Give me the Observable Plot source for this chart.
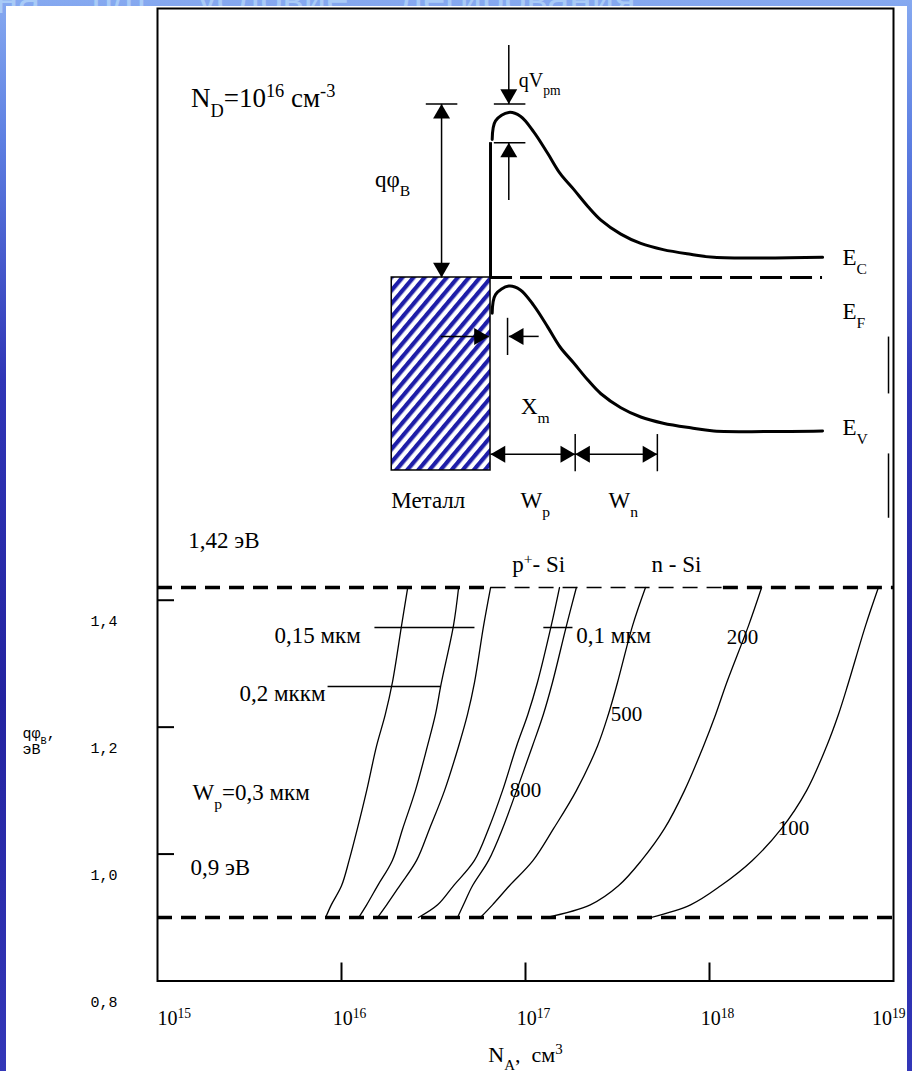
<!DOCTYPE html>
<html lang="ru">
<head>
<meta charset="utf-8">
<title>Высота барьера qφB в зависимости от N_A</title>
<script src="https://cdn.jsdelivr.net/npm/d3@7"></script>
<script src="https://cdn.jsdelivr.net/npm/@observablehq/plot@0.6"></script>
<style>
  html, body { margin: 0; padding: 0; }
  body {
    position: relative; width: 912px; height: 1071px; overflow: hidden;
    background: linear-gradient(180deg, #86a9f0 0px, #5d7fe2 140px, #2f35b6 380px, #2323a0 700px, #3337b8 1071px);
  }
  #slide-title {
    position: absolute; left: -4px; top: -21px; white-space: nowrap;
    font: 40px/40px "Liberation Sans", sans-serif; color: #a9cbf7; word-spacing: 40px;
  }
  #sheet { position: absolute; left: 6px; top: 6px; width: 901px; height: 1065px; background: #fff; }
  .layer { position: absolute; left: 0; top: 0; width: 912px; }
  .layer svg { display: block; max-width: none; font-family: "Liberation Serif", "Times New Roman", serif !important; }
</style>
</head>
<body>
<div id="slide-title">на п/п условие легирования</div>
<div id="sheet"></div>
<div id="chart" class="layer"></div>
<div id="diagram" class="layer"></div>
<script>
// ---------- Lower chart: barrier height qφB versus acceptor concentration N_A ----------

// barrier height levels (эВ) at which every curve is sampled
const qLevels = [0.90, 0.92, 0.95, 0.99, 1.04, 1.10, 1.17, 1.22, 1.27, 1.36, 1.42];

// N_A (см^-3) of the p+ layer that gives each qφB level, one array per layer thickness W_p
const naW300 = [8.2e15, 8.8e15, 1.0e16, 1.10e16, 1.22e16, 1.37e16, 1.55e16, 1.73e16, 1.89e16, 2.12e16, 2.29e16];
const naW200 = [1.24e16, 1.37e16, 1.57e16, 1.89e16, 2.15e16, 2.52e16, 2.93e16, 3.24e16, 3.49e16, 4.06e16, 4.33e16];
const naW150 = [1.57e16, 1.76e16, 2.07e16, 2.56e16, 3.01e16, 3.63e16, 4.33e16, 4.84e16, 5.28e16, 5.92e16, 6.46e16];
const naW100 = [2.62e16, 3.33e16, 4.06e16, 5.28e16, 6.30e16, 7.50e16, 8.94e16, 1.03e17, 1.16e17, 1.38e17, 1.53e17];
const naW80  = [4.27e16, 4.60e16, 5.15e16, 6.30e16, 7.50e16, 8.94e16, 1.09e17, 1.25e17, 1.40e17, 1.67e17, 1.89e17];
const naW50  = [5.69e16, 6.62e16, 8.18e16, 1.10e17, 1.42e17, 1.89e17, 2.46e17, 2.82e17, 3.16e17, 3.82e17, 4.49e17];
const naW20  = [1.29e17, 2.25e17, 3.20e17, 4.27e17, 5.69e17, 7.31e17, 9.27e17, 1.08e18, 1.24e18, 1.63e18, 1.92e18];
const naW10  = [4.78e17, 7.89e17, 1.15e18, 1.71e18, 2.46e18, 3.37e18, 4.33e18, 5.02e18, 5.69e18, 7.05e18, 8.28e18];
const layerNames = ["0,3 мкм", "0,2 мкм", "0,15 мкм", "0,1 мкм", "800 Å", "500 Å", "200 Å", "100 Å"];
const layerNA = [naW300, naW200, naW150, naW100, naW80, naW50, naW20, naW10];

// band edges drawn as dashed levels, and the stretch of the upper one drawn lighter
const upperLevel = 1.42;
const lowerLevel = 0.9;
const lightStretch = [6.5e16, 1.19e18];

// axes
const naTicks = [1e15, 1e16, 1e17, 1e18, 1e19];
const qTicks = [1.4, 1.2, 1.0, 0.8];

// notes inside the chart (N_A, qφB of their anchor)
const noteTexts = ["1,42 эВ", "0,9 эВ", "W_{p}=0,3 мкм", "0,15 мкм", "0,2 мккм", "0,1 мкм"];
const noteNA = [1.47e15, 1.51e15, 1.55e15, 4.32e15, 2.79e15, 1.89e17];
const noteQ = [1.494, 0.979, 1.097, 1.344, 1.253, 1.344];
const regionTexts = ["p^{+}- Si", "n - Si"];
const regionNA = [1.18e17, 6.62e17];
const regionQ = [1.456, 1.456];
const curveTags = ["800", "500", "200", "100"];
const curveTagNA = [1.0e17, 3.54e17, 1.51e18, 2.86e18];
const curveTagQ = [1.10, 1.221, 1.341, 1.040];
// leader lines from the thickness notes to their curves
const leaderFrom = [1.51e16, 8.4e15, 1.25e17];
const leaderTo = [5.28e16, 3.45e16, 1.80e17];
const leaderQ = [1.357, 1.264, 1.357];

// ---------- Upper sketch: band diagram of the metal / p+ / n-Si contact ----------
// distance from the metal (нм) and E_C − E_F (эВ)
const bandX  = [2, 6, 22, 36, 52, 69, 84, 100, 117, 133, 157, 181, 208, 241, 269, 400];
const bandEc = [0.89, 1.01, 1.065, 1.04, 0.94, 0.80, 0.67, 0.57, 0.46, 0.37, 0.28, 0.22, 0.18, 0.15, 0.13, 0.13];
const bandGap = 1.12;
const barrier = 1.12;      // qφB above the metal Fermi level
const ecAtMetal = 0.87;    // E_C right at the metal boundary
const peakX = 22;          // X_m, position of the barrier maximum
const wpEnd = 102;         // end of the p+ layer
const wnEnd = 201;         // end of the depleted n region
const metalLeft = -119;
const metalBottom = -1.245;
const phiArrowX = -59;
const xmLevel = -0.38;
const wLevel = -1.14;
const strayX = 479.5;
const strayFrom = [-0.381, -1.135];
const strayTo = [-0.748, -1.55];

const sketchTexts = ["qφ_{B}", "X_{m}", "Металл", "W_{p}", "W_{n}"];
const sketchTextX = [-118, 54, -75, 54, 160];
const sketchTextE = [0.63, -0.83, -1.44, -1.44, -1.44];
const levelNames = ["E_{C}", "E_{F}", "E_{V}"];
const levelNameE = [0.13, -0.22, -0.97];
const levelNameX = 424;

// ---------- rows for the marks ----------
const curveRows = layerNames.flatMap((name, k) =>
  qLevels.map((q, i) => ({layer: name, na: layerNA[k][i], q})));
const zip = (t, x, y) => t.map((text, i) => ({text, x: x[i], y: y[i]}));
const leaders = leaderFrom.map((x1, i) => ({x1, x2: leaderTo[i], y: leaderQ[i]}));

const ecRows = bandX.map((x, i) => ({x, e: bandEc[i]}));
const evRows = bandX.map((x, i) => ({x, e: bandEc[i] - bandGap}));

const shafts = [
  {x1: phiArrowX, y1: 0, x2: phiArrowX, y2: barrier},
  {x1: peakX, y1: barrier + 0.38, x2: peakX, y2: barrier},
  {x1: peakX, y1: ecAtMetal - 0.37, x2: peakX, y2: ecAtMetal},
  {x1: -60, y1: xmLevel, x2: -2, y2: xmLevel},
  {x1: peakX, y1: xmLevel, x2: 58, y2: xmLevel},
  {x1: 0, y1: wLevel, x2: wnEnd, y2: wLevel},
  {x1: -78, y1: barrier, x2: -40, y2: barrier},
  {x1: 4, y1: barrier, x2: 42, y2: barrier},
  {x1: 4, y1: ecAtMetal, x2: 42, y2: ecAtMetal},
  {x1: peakX - 1.5, y1: xmLevel + 0.12, x2: peakX - 1.5, y2: xmLevel - 0.12},
  {x1: wpEnd, y1: wLevel + 0.13, x2: wpEnd, y2: wLevel - 0.11},
  {x1: wnEnd, y1: wLevel + 0.13, x2: wnEnd, y2: wLevel - 0.11},
  ...strayFrom.map((e, i) => ({x1: strayX, y1: e, x2: strayX, y2: strayTo[i]}))
];
const heads = [
  {x: phiArrowX, e: 0, dir: "down"}, {x: phiArrowX, e: barrier, dir: "up"},
  {x: peakX, e: barrier, dir: "down"}, {x: peakX, e: ecAtMetal, dir: "up"},
  {x: -2, e: xmLevel, dir: "right"}, {x: peakX, e: xmLevel, dir: "left"},
  {x: 0, e: wLevel, dir: "left"}, {x: wpEnd, e: wLevel, dir: "right"},
  {x: wpEnd, e: wLevel, dir: "left"}, {x: wnEnd, e: wLevel, dir: "right"}
];
const headTurn = {up: 0, right: 90, down: 180, left: 270};
const headShift = 9.8;
const headMarks = Object.keys(headTurn).map(dir => Plot.dot(heads.filter(h => h.dir === dir), {
  x: "x", y: "e", symbol: "triangle", r: 6.3, fill: "#000", stroke: "none",
  rotate: headTurn[dir],
  dx: dir === "right" ? -headShift : dir === "left" ? headShift : 0,
  dy: dir === "up" ? headShift : dir === "down" ? -headShift : 0
}));

const serif = "Liberation Serif, Times New Roman, serif";
const mono = "Liberation Mono, Courier New, monospace";
const comma = d => d.toFixed(1).replace(".", ",");
const power = d => `10^{${Math.round(Math.log10(d))}}`;

const chart = Plot.plot({
  width: 912, height: 1071,
  marginTop: 8, marginRight: 19, marginBottom: 90.5, marginLeft: 157,
  style: {background: "transparent", color: "#000", overflow: "visible"},
  x: {type: "log", domain: [naTicks[0], naTicks[naTicks.length - 1]]},
  y: {domain: [0.8, 2.3324]},
  marks: [
    Plot.frame({stroke: "#000", strokeWidth: 2}),
    Plot.axisY(qTicks.filter(q => q > 0.8), {tickSize: -17, tickFormat: () => "", strokeWidth: 2, label: null}),
    Plot.axisY(qTicks, {tickSize: 0, tickPadding: 40, dy: 21, tickFormat: comma, fontFamily: mono, fontSize: 15, label: null}),
    Plot.axisX(naTicks.slice(1, -1), {tickSize: -18, tickFormat: () => "", strokeWidth: 2, label: null}),
    Plot.axisX(naTicks.slice(0, 1), {tickSize: 0, tickPadding: 30, textAnchor: "start", fontFamily: serif, fontSize: 20, label: null, tickFormat: power}),
    Plot.axisX(naTicks.slice(1, -1), {tickSize: 0, tickPadding: 30, dx: 8, fontFamily: serif, fontSize: 20, label: null, tickFormat: power}),
    Plot.axisX(naTicks.slice(-1), {tickSize: 0, tickPadding: 30, dx: 12, textAnchor: "end", fontFamily: serif, fontSize: 20, label: null, tickFormat: power}),
    Plot.ruleY([lowerLevel], {x1: naTicks[0], x2: naTicks[4], strokeWidth: 3.5, strokeDasharray: "15,9"}),
    Plot.ruleY([upperLevel], {x1: naTicks[0], x2: lightStretch[0], strokeWidth: 3.5, strokeDasharray: "15,9"}),
    Plot.ruleY([upperLevel], {x1: lightStretch[0], x2: lightStretch[1], strokeWidth: 1.6, strokeDasharray: "15,9"}),
    Plot.ruleY([upperLevel], {x1: lightStretch[1], x2: naTicks[4], strokeWidth: 3.5, strokeDasharray: "15,9"}),
    Plot.line(curveRows, {x: "na", y: "q", z: "layer", stroke: "#000", strokeWidth: 1.3, curve: "catmull-rom"}),
    Plot.link(leaders, {x1: "x1", x2: "x2", y1: "y", y2: "y", stroke: "#000", strokeWidth: 1.5}),
    Plot.text(zip(noteTexts, noteNA, noteQ), {x: "x", y: "y", text: "text", textAnchor: "start", fontFamily: serif, fontSize: 23}),
    Plot.text(zip(regionTexts, regionNA, regionQ), {x: "x", y: "y", text: "text", fontFamily: serif, fontSize: 23}),
    Plot.text(zip(curveTags, curveTagNA, curveTagQ), {x: "x", y: "y", text: "text", fontFamily: serif, fontSize: 21}),
    Plot.text(["qφ_{B},\nэВ"], {frameAnchor: "left", y: () => 1.179, dx: -135, textAnchor: "start",
      fontFamily: mono, fontSize: 15, lineHeight: 1.1}),
    Plot.text(["N_{A},  см^{3}"], {frameAnchor: "bottom", dy: 81, fontFamily: serif, fontSize: 22})
  ]
});

const diagram = Plot.plot({
  width: 912, height: 520, margin: 0,
  style: {background: "transparent", color: "#000", overflow: "visible"},
  x: {domain: [-590.4, 508.4], axis: null},
  y: {domain: [-1.5677, 1.7871], axis: null},
  marks: [
    Plot.rect([{x1: metalLeft, x2: 0, y1: metalBottom, y2: 0}],
      {x1: "x1", x2: "x2", y1: "y1", y2: "y2", fill: "url(#metal-hatch)", stroke: "#000", strokeWidth: 1.5}),
    Plot.ruleY([0], {x1: 0, x2: bandX[bandX.length - 1], strokeWidth: 3, strokeDasharray: "22,8"}),
    Plot.ruleX([0], {y1: 0, y2: ecAtMetal, strokeWidth: 3}),
    Plot.line(ecRows, {x: "x", y: "e", strokeWidth: 3, curve: "catmull-rom"}),
    Plot.line(evRows, {x: "x", y: "e", strokeWidth: 3, curve: "catmull-rom"}),
    Plot.link(shafts, {x1: "x1", y1: "y1", x2: "x2", y2: "y2", stroke: "#000", strokeWidth: 1.5}),
    ...headMarks,
    Plot.text(["N_{D}=10^{16} см^{-3}"], {x: () => -361, y: () => 1.155, textAnchor: "start", fontFamily: serif, fontSize: 27}),
    Plot.text(["qV_{pm}"], {x: () => 34, y: () => 1.27, textAnchor: "start", fontFamily: serif, fontSize: 20}),
    Plot.text(zip(sketchTexts, sketchTextX, sketchTextE), {x: "x", y: "y", text: "text", fontFamily: serif, fontSize: 23}),
    Plot.text(levelNames, {x: () => levelNameX, y: (d, i) => levelNameE[i], textAnchor: "start", fontFamily: serif, fontSize: 23})
  ]
});

// hatch used for the metal
d3.select(diagram).insert("defs", ":first-child").html(
  `<pattern id="metal-hatch" patternUnits="userSpaceOnUse" width="8.5" height="8.5" patternTransform="rotate(40)">
     <rect width="8.5" height="8.5" fill="#fff"></rect>
     <rect width="4.2" height="8.5" fill="#1e1ea8"></rect>
   </pattern>`);

document.getElementById("chart").append(chart);
document.getElementById("diagram").append(diagram);

// turn _{…} and ^{…} into subscript / superscript spans
function richText(svg) {
  const ns = "http://www.w3.org/2000/svg";
  svg.querySelectorAll("text").forEach(text => {
    const spans = text.querySelectorAll("tspan");
    const nodes = spans.length ? [...spans] : [text];
    nodes.forEach(node => {
      const src = node.textContent;
      if (!/[_^]\{/.test(src)) return;
      node.textContent = "";
      const re = /([_^])\{([^}]*)\}|[^_^]+|[_^]/g;
      let m;
      while ((m = re.exec(src))) {
        if (m[1]) {
          const t = document.createElementNS(ns, "tspan");
          t.setAttribute("baseline-shift", m[1] === "_" ? "sub" : "super");
          t.setAttribute("font-size", "68%");
          t.textContent = m[2];
          node.appendChild(t);
        } else {
          node.appendChild(document.createTextNode(m[0]));
        }
      }
    });
  });
}
richText(chart);
richText(diagram);
</script>
</body>
</html>
